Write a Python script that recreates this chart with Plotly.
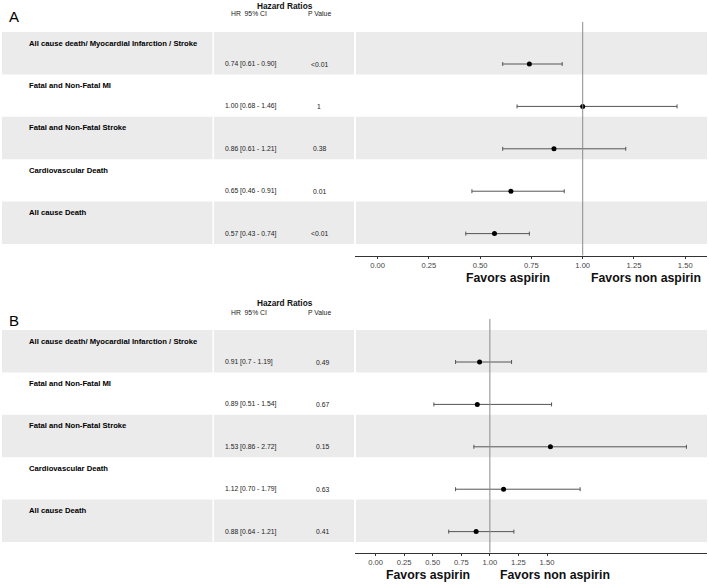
import plotly.graph_objects as go

W, H = 709, 584

outcomes = ["All cause death/ Myocardial Infarction / Stroke",
            "Fatal and Non-Fatal MI",
            "Fatal and Non-Fatal Stroke",
            "Cardiovascular Death",
            "All cause Death"]

# Panel A
hr_a = [0.74, 1.00, 0.86, 0.65, 0.57]
lo_a = [0.61, 0.68, 0.61, 0.46, 0.43]
hi_a = [0.90, 1.46, 1.21, 0.91, 0.74]
ci_text_a = ["0.74 [0.61 - 0.90]", "1.00 [0.68 - 1.46]", "0.86 [0.61 - 1.21]",
             "0.65 [0.46 - 0.91]", "0.57 [0.43 - 0.74]"]
p_a = ["<0.01", "1", "0.38", "0.01", "<0.01"]

# Panel B
hr_b = [0.91, 0.89, 1.53, 1.12, 0.88]
lo_b = [0.70, 0.51, 0.86, 0.70, 0.64]
hi_b = [1.19, 1.54, 2.72, 1.79, 1.21]
ci_text_b = ["0.91 [0.7 - 1.19]", "0.89 [0.51 - 1.54]", "1.53 [0.86 - 2.72]",
             "1.12 [0.70 - 1.79]", "0.88 [0.64 - 1.21]"]
p_b = ["0.49", "0.67", "0.15", "0.63", "0.41"]

tick_vals = [0.0, 0.25, 0.5, 0.75, 1.0, 1.25, 1.5]
tick_text = ["0.00", "0.25", "0.50", "0.75", "1.00", "1.25", "1.50"]

FONT = "Liberation Sans, Arial, sans-serif"

def px(x):
    return x / W

def py(y):
    return 1 - y / H

fig = go.Figure()
annotations = []
shapes = []

panels = [
    dict(hr=hr_a, lo=lo_a, hi=hi_a, ci=ci_text_a, p=p_a, xa="x", ya="y",
         top=22, bottom=255.5, band0=32, xrange=[-0.11, 1.606], letter="A",
         letter_y=17, hdr_y=6, sub_y=14, p_x=319),
    dict(hr=hr_b, lo=lo_b, hi=hi_b, ci=ci_text_b, p=p_b, xa="x2", ya="y2",
         top=319, bottom=552.5, band0=330, xrange=[-0.18, 2.9], letter="B",
         letter_y=320, hdr_y=303, sub_y=312, p_x=322),
]

rowh = 42.4
for i, pn in enumerate(panels):
    ymin = (pn["top"] - pn["band0"]) / rowh
    ymax = (pn["bottom"] - pn["band0"]) / rowh
    ypos = [r + 0.755 for r in range(5)]
    fig.add_trace(go.Scatter(
        x=pn["hr"], y=ypos, mode="markers", xaxis=pn["xa"], yaxis=pn["ya"],
        marker=dict(color="black", size=5),
        error_x=dict(type="data", symmetric=False,
                     array=[h - m for h, m in zip(pn["hi"], pn["hr"])],
                     arrayminus=[m - l for m, l in zip(pn["hr"], pn["lo"])],
                     color="#555555", thickness=1, width=2),
        showlegend=False, hoverinfo="skip"))
    yref = pn["ya"]
    # bands
    for r in (0, 2, 4):
        for x0, x1 in ((2, 212.5), (214, 354), (356, 707)):
            shapes.append(dict(type="rect", xref="paper", yref=yref,
                               x0=px(x0), x1=px(x1), y0=r, y1=r + 1,
                               fillcolor="#EBEBEB", line=dict(width=0), layer="below"))
    # reference line
    shapes.append(dict(type="line", xref=pn["xa"], yref=yref + " domain",
                       x0=1, x1=1, y0=0, y1=1, line=dict(color="#8c8c8c", width=1)))
    # texts
    for r in range(5):
        annotations.append(dict(text="<b>%s</b>" % outcomes[r], xref="paper", yref=yref,
                                x=px(26.5), y=r + 0.26, xanchor="left", yanchor="middle",
                                showarrow=False, font=dict(family=FONT, size=7.7, color="#000")))
        annotations.append(dict(text=pn["ci"][r], xref="paper", yref=yref,
                                x=px(223), y=r + 0.755, xanchor="left", yanchor="middle",
                                showarrow=False, font=dict(family=FONT, size=6.8, color="#222")))
        annotations.append(dict(text=pn["p"][r], xref="paper", yref=yref,
                                x=px(pn["p_x"]), y=r + 0.755, xanchor="center", yanchor="middle",
                                showarrow=False, font=dict(family=FONT, size=6.8, color="#222")))
    annotations.append(dict(text="<b>Hazard Ratios</b>", xref="paper", yref="paper",
                            x=px(284.5), y=py(pn["hdr_y"]), xanchor="center", yanchor="middle",
                            showarrow=False, font=dict(family=FONT, size=8.3, color="#111")))
    annotations.append(dict(text="HR  95% CI", xref="paper", yref="paper",
                            x=px(249), y=py(pn["sub_y"]), xanchor="center", yanchor="middle",
                            showarrow=False, font=dict(family=FONT, size=6.8, color="#222")))
    annotations.append(dict(text="P Value", xref="paper", yref="paper",
                            x=px(319), y=py(pn["sub_y"]), xanchor="center", yanchor="middle",
                            showarrow=False, font=dict(family=FONT, size=6.8, color="#222")))
    annotations.append(dict(text=pn["letter"], xref="paper", yref="paper",
                            x=px(14), y=py(pn["letter_y"]), xanchor="center", yanchor="middle",
                            showarrow=False, font=dict(family=FONT, size=15, color="#000")))
    # axes
    dom_y = [py(pn["bottom"]), py(pn["top"])]
    xkey = "xaxis" if i == 0 else "xaxis2"
    ykey = "yaxis" if i == 0 else "yaxis2"
    fig.update_layout(**{
        xkey: dict(domain=[px(355), px(707)], anchor=pn["ya"], range=pn["xrange"],
                   tickvals=tick_vals, ticktext=tick_text, showgrid=False, zeroline=False,
                   showline=True, linecolor="#333333", linewidth=1,
                   ticks="outside", ticklen=2.5, tickcolor="#333333", tickwidth=1,
                   tickfont=dict(family=FONT, size=7.6, color="#444444")),
        ykey: dict(domain=dom_y, anchor=pn["xa"], range=[ymax, ymin], visible=False,
                   showgrid=False, zeroline=False),
    })
    # favors labels
    fy = 278 if i == 0 else 575
    fa = 508 if i == 0 else 428
    fn = 646 if i == 0 else 555
    annotations.append(dict(text="<b>Favors aspirin</b>", xref="paper", yref="paper",
                            x=px(fa), y=py(fy), xanchor="center", yanchor="middle",
                            showarrow=False, font=dict(family=FONT, size=12.3, color="#111")))
    annotations.append(dict(text="<b>Favors non aspirin</b>", xref="paper", yref="paper",
                            x=px(fn), y=py(fy), xanchor="center", yanchor="middle",
                            showarrow=False, font=dict(family=FONT, size=12.3, color="#111")))

fig.update_layout(width=W, height=H, margin=dict(l=0, r=0, t=0, b=0),
                  paper_bgcolor="white", plot_bgcolor="rgba(0,0,0,0)",
                  annotations=annotations, shapes=shapes, showlegend=False)

fig.write_html("out.html", config={"displayModeBar": False},
               post_script="document.body.style.margin='0';document.body.style.overflow='hidden';")
